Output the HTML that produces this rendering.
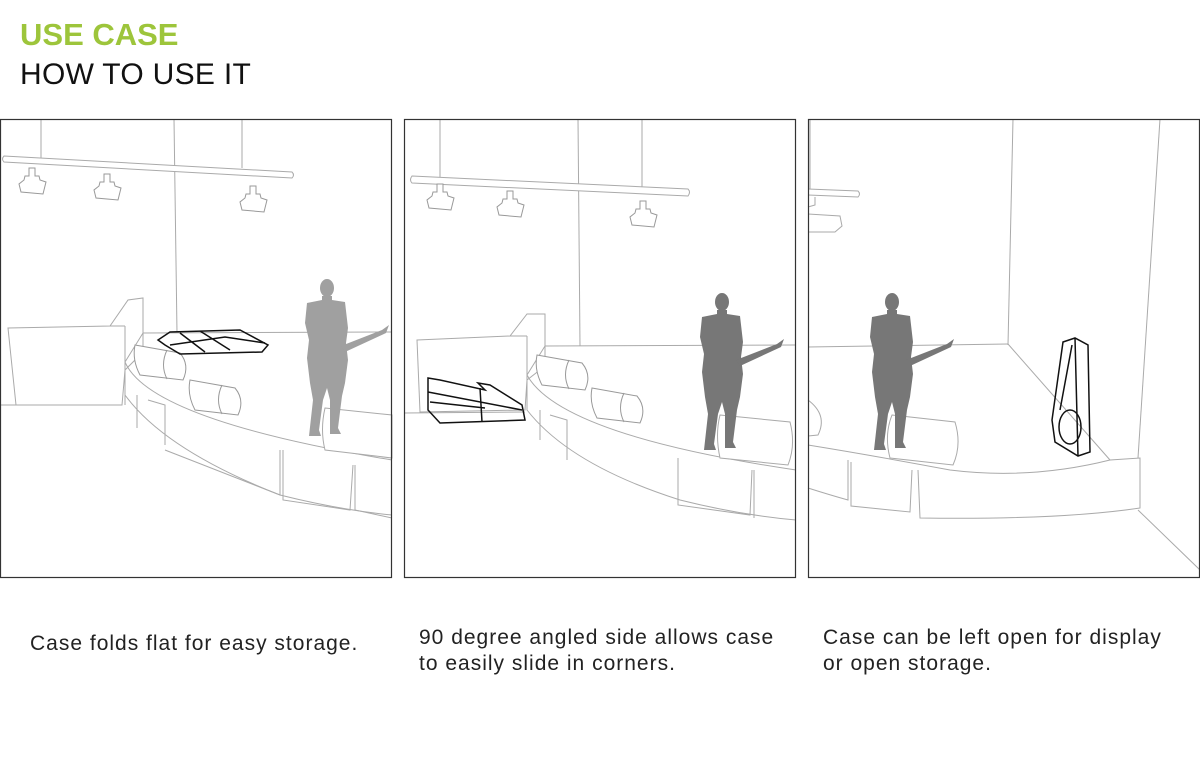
<!DOCTYPE html>
<html><head><meta charset="utf-8"><style>
body{margin:0;width:1200px;height:776px;background:#fff;font-family:"Liberation Sans",sans-serif;position:relative;overflow:hidden}
.h1{position:absolute;left:20px;top:17px;font-size:31px;font-weight:bold;color:#9dc53b;letter-spacing:0px}
.h2{position:absolute;left:20px;top:58px;font-size:30px;color:#111;letter-spacing:0.3px}
.cap{position:absolute;font-size:21px;color:#222;line-height:26px;letter-spacing:1px}
svg{position:absolute;left:0;top:0}
</style></head><body>
<div class="h1">USE CASE</div>
<div class="h2">HOW TO USE IT</div>
<svg width="1200" height="776" viewBox="0 0 1200 776">
<defs>
<g id="body">
<ellipse cx="0" cy="0" rx="7" ry="9"/>
<path d="M-5,8 L5,8 L5,12 L18,14 L21,40 L19,55 L21,72 L18,95 L15,108 L11,140 L14,146 L3,146 L3,112 L0,100 L-4,112 L-8,142 L-6,148 L-18,148 L-14,112 L-17,95 L-20,70 L-18,52 L-22,35 L-20,15 L-5,12 Z"/>
<path d="M14,58 L55,42 L62,37 L59,45 L18,64 Z"/>
</g>
<g id="light"><path d="M-3,-14 L3,-14 L3,-6 L7,-6 L8,-2 L14,0 L11,12 L-11,10 L-13,2 L-8,-2 L-7,-6 L-3,-6 Z" fill="#fff" stroke="#999" stroke-width="1"/></g>
<g id="spk"><path d="M0,0 L45,8 Q55,20 48,35 L5,30 Q-3,15 0,0 Z" fill="#fff" stroke="#999" stroke-width="1"/><path d="M32,5 Q25,20 32,34" fill="none" stroke="#999"/></g>
</defs>
<g fill="none" stroke="#aaa" stroke-width="1">
<!-- Panel 1 -->
<line x1="41" y1="119" x2="41" y2="158"/><line x1="174" y1="119" x2="177" y2="333"/><line x1="242" y1="119" x2="242" y2="168"/>
<path d="M4,156 L292,172 Q295,175 292,178 L4,162 Q1,159 4,156 Z" fill="#fff"/>
<use href="#light" x="32" y="182"/><use href="#light" x="107" y="188"/><use href="#light" x="253" y="200"/>
<path d="M8,328 L110,326 L128,300 L143,298 L143,352 L125,370 L122,405 L16,405 Z"/>
<line x1="110" y1="326" x2="125" y2="326"/><line x1="125" y1="326" x2="125" y2="405"/>
<line x1="0" y1="405" x2="122" y2="405"/>
<line x1="143" y1="333" x2="392" y2="332"/>
<path d="M143,333 L125,362 Q150,420 392,460"/>
<path d="M125,362 L125,395 Q165,450 280,495 Q340,510 392,515"/>
<path d="M137,395 L137,428 M148,400 L165,405 L165,445 M165,450 L280,495 L280,450 M283,450 L283,500 L350,510 L353,465 M355,465 L355,510 L392,518"/>
<use href="#spk" x="135" y="345"/><use href="#spk" x="190" y="380"/>
<path d="M325,408 L392,415 L392,458 L325,450 Q320,430 325,408 Z" fill="#fff"/>
<!-- Panel 2 -->
<line x1="440" y1="119" x2="440" y2="180"/><line x1="578" y1="119" x2="580" y2="346"/><line x1="642" y1="119" x2="642" y2="190"/>
<path d="M412,176 L688,189 Q691,192 688,196 L412,183 Q409,180 412,176 Z" fill="#fff"/>
<use href="#light" x="440" y="198"/><use href="#light" x="510" y="205"/><use href="#light" x="643" y="215"/>
<path d="M417,340 L510,336 L527,314 L545,314 L545,366 L527,380 L525,410 L420,412 Z"/>
<line x1="510" y1="336" x2="527" y2="336"/><line x1="527" y1="336" x2="527" y2="410"/>
<line x1="404" y1="413" x2="525" y2="412"/>
<line x1="545" y1="346" x2="796" y2="345"/>
<path d="M545,346 L527,375 Q560,435 796,470"/>
<path d="M527,375 L527,410 Q570,465 680,500 Q740,515 796,520"/>
<path d="M540,410 L540,440 M550,415 L567,420 L567,460 M678,458 L678,505 L750,515 L752,470 M754,470 L754,518"/>
<use href="#spk" x="537" y="355"/><use href="#spk" x="592" y="388"/>
<path d="M720,415 L790,422 Q796,445 788,465 L720,458 Q715,435 720,415 Z" fill="#fff"/>
<!-- Panel 3 -->
<line x1="810" y1="119" x2="810" y2="190"/>
<path d="M808,189 L858,191 Q861,194 858,197 L808,195" fill="#fff"/>
<path d="M815,197 L815,205 L808,207 M808,214 L840,216 L842,226 L835,232 L808,232"/>
<line x1="1013" y1="119" x2="1008" y2="345"/>
<line x1="808" y1="347" x2="1008" y2="344"/>
<line x1="1008" y1="344" x2="1110" y2="460"/>
<line x1="1160" y1="119" x2="1138" y2="458"/>
<line x1="1138" y1="510" x2="1200" y2="570"/>
<path d="M808,445 Q870,455 950,470 Q1030,480 1110,460 L1140,458 L1140,508 Q1060,520 920,518 L918,470"/>
<path d="M808,488 Q830,495 848,500 L848,460 M851,462 L851,506 L910,512 L912,470"/>
<path d="M808,400 Q828,415 818,435 L808,436"/>
<path d="M892,415 L955,422 Q962,445 953,465 L890,458 Q884,435 892,415 Z" fill="#fff"/>
</g>
<use href="#body" x="327" y="288" fill="#a0a0a0"/>
<use href="#body" x="722" y="302" fill="#777"/>
<use href="#body" x="892" y="302" fill="#777"/>
<!-- cases -->
<g fill="none" stroke="#111" stroke-width="1.5">
<path d="M170,332 L240,330 L268,345 L262,352 L180,354 L165,345 L158,340 Z"/>
<path d="M180,333 L205,352 M200,331 L230,350 M170,345 L225,337 L265,343"/>
<path d="M428,378 L440,380 L485,390 L478,383 L490,385 L522,405 L525,420 L440,423 L428,410 Z"/>
<path d="M428,392 L522,410 M480,388 L482,422 M430,402 L485,408"/>
<path d="M1063,342 L1075,338 L1088,345 L1090,452 L1078,456 L1055,442 L1052,420 Z"/>
<path d="M1075,338 L1078,456 M1072,345 L1060,410"/>
<ellipse cx="1070" cy="427" rx="11" ry="17"/>
</g>
</svg>
<svg width="1200" height="776" style="pointer-events:none">
<rect x="0.5" y="119.5" width="391" height="458" fill="none" stroke="#333" stroke-width="1.2"/>
<rect x="404.5" y="119.5" width="391" height="458" fill="none" stroke="#333" stroke-width="1.2"/>
<rect x="808.5" y="119.5" width="391" height="458" fill="none" stroke="#333" stroke-width="1.2"/>
</svg>
<div class="cap" style="left:30px;top:631px">Case folds flat for easy storage.</div>
<div class="cap" style="left:419px;top:625px">90 degree angled side allows case<br>to easily slide in corners.</div>
<div class="cap" style="left:823px;top:625px">Case can be left open for display<br>or open storage.</div>
</body></html>
